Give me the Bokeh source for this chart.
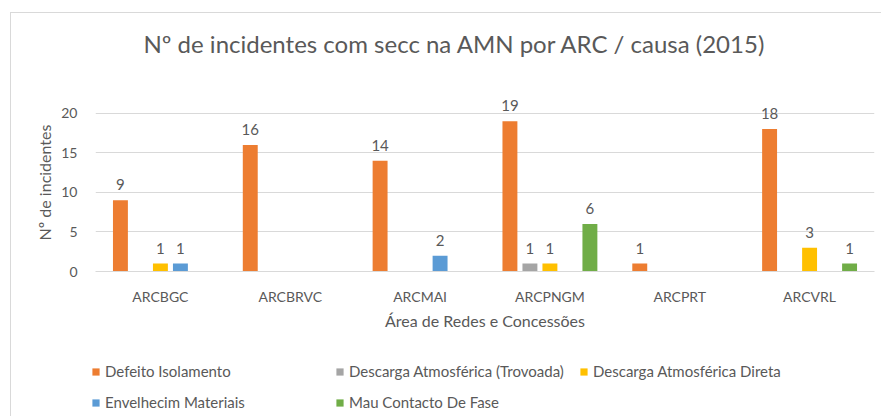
from bokeh.plotting import figure
from bokeh.layouts import column
from bokeh.models import ColumnDataSource, FactorRange, Range1d, Legend, LegendItem, FixedTicker, Label
from bokeh.transform import dodge
from bokeh.core.properties import value
from bokeh.embed import file_html
from bokeh.resources import INLINE

# ---- data ----
title_text = "Nº de incidentes com secc na AMN por ARC / causa  (2015)"
categories = ["ARCBGC", "ARCBRVC", "ARCMAI", "ARCPNGM", "ARCPRT", "ARCVRL"]
series_names = [
    "Defeito Isolamento",
    "Descarga Atmosférica (Trovoada)",
    "Descarga Atmosférica Direta",
    "Envelhecim Materiais",
    "Mau Contacto De Fase",
]
defeito_isolamento = [9, 16, 14, 19, 1, 18]
descarga_trovoada = [0, 0, 0, 1, 0, 0]
descarga_direta = [1, 0, 0, 1, 0, 3]
envelhecim_materiais = [1, 0, 2, 0, 0, 0]
mau_contacto = [0, 0, 0, 6, 0, 1]
y_ticks = [0, 5, 10, 15, 20]

series_values = [defeito_isolamento, descarga_trovoada, descarga_direta,
                 envelhecim_materiais, mau_contacto]
colors = ["#ED7D31", "#A5A5A5", "#FFC000", "#5B9BD5", "#70AD47"]
offsets = [-0.308, -0.154, 0.0, 0.154, 0.308]

FONT = "Lato"
TXT = "#595959"

def strip(height):
    f = figure(width=881, height=height, output_backend="svg", toolbar_location=None,
               x_range=Range1d(0, 1), y_range=Range1d(0, 1),
               min_border_left=0, min_border_right=0, min_border_top=0, min_border_bottom=0)
    f.axis.visible = False
    f.grid.visible = False
    f.outline_line_color = None
    f.border_fill_color = None
    f.background_fill_color = None
    return f

# ---- title strip ----
tf = strip(60)
tf.styles = {"box-shadow": "inset 10px 12px 0 0 #ffffff, inset 11px 13px 0 0 #d9d9d9"}
tf.add_layout(Label(x=143, y=17, x_units="screen", y_units="screen", text=title_text,
                    text_font=FONT, text_font_size="24px", text_color=TXT,
                    text_align="left", text_baseline="middle"))

# ---- main chart ----
p = figure(width=881, height=285, output_backend="svg", toolbar_location=None,
           x_range=FactorRange(*categories), y_range=Range1d(0, 22.5),
           min_border_left=95, min_border_right=7, min_border_top=33, min_border_bottom=74)
p.border_fill_color = None
p.outline_line_color = None
p.styles = {"box-shadow": "inset 10px 0 0 0 #ffffff, inset 11px 0 0 0 #d9d9d9"}
p.title.text = ""

for name, vals, col, off in zip(series_names, series_values, colors, offsets):
    xs = [c for c, v in zip(categories, vals) if v != 0]
    ys = [v for v in vals if v != 0]
    src = ColumnDataSource(data=dict(x=xs, y=ys, lbl=[str(v) for v in ys]))
    p.vbar(x=dodge("x", off, range=p.x_range), top="y", width=0.115, source=src,
           fill_color=col, line_color=None)
    p.text(x=dodge("x", off, range=p.x_range), y="y", text="lbl", source=src,
           text_align="center", text_baseline="bottom", y_offset=-10,
           text_font=value(FONT), text_font_size="15px", text_color=TXT)

p.xgrid.grid_line_color = None
p.ygrid.grid_line_color = "#D9D9D9"
p.yaxis.ticker = FixedTicker(ticks=y_ticks)
p.yaxis.axis_line_color = None
p.yaxis.major_tick_line_color = None
p.yaxis.minor_tick_line_color = None
p.yaxis.major_label_standoff = 12
p.yaxis.axis_label = "Nº de incidentes"
p.yaxis.axis_label_standoff = 4
p.xaxis.axis_line_color = "#D9D9D9"
p.xaxis.major_tick_line_color = None
p.xaxis.major_label_standoff = 10
p.xaxis.axis_label = "Área de Redes e Concessões"
p.xaxis.axis_label_standoff = 3
for ax in (p.xaxis, p.yaxis):
    ax.major_label_text_font = FONT
    ax.major_label_text_font_size = "14px"
    ax.major_label_text_color = TXT
    ax.axis_label_text_font = FONT
    ax.axis_label_text_font_size = "16px"
    ax.axis_label_text_font_style = "normal"
    ax.axis_label_text_color = TXT

# ---- legend strip (its bars sit below the visible range; only the legend shows) ----
lf = figure(width=881, height=71, output_backend="svg", toolbar_location=None,
            x_range=FactorRange(*categories), y_range=Range1d(1000, 1001),
            min_border_left=0, min_border_right=0, min_border_top=0, min_border_bottom=0)
lf.axis.visible = False
lf.grid.visible = False
lf.outline_line_color = None
lf.border_fill_color = None
lf.background_fill_color = None
lf.styles = {"box-shadow": "inset 10px 0 0 0 #ffffff, inset 11px 0 0 0 #d9d9d9"}
for fig in (tf, p, lf):
    if "frame_align" in fig.properties():
        fig.frame_align = False

items = []
for name, vals, col in zip(series_names, series_values, colors):
    src = ColumnDataSource(data=dict(x=categories, y=vals))
    r = lf.vbar(x="x", top="y", width=0.1, source=src, fill_color=col, line_color=None)
    items.append(LegendItem(label=name, renderers=[r]))

legend = Legend(items=items, location=(91, 5), orientation="horizontal", ncols=3,
                glyph_width=9, glyph_height=9, label_height=18, label_width=217, spacing=13,
                label_standoff=5, padding=0, margin=0,
                border_line_color=None, background_fill_color=None,
                label_text_font=FONT, label_text_font_size="15px", label_text_color=TXT)
lf.add_layout(legend, "center")

layout = column(tf, p, lf, spacing=0)
open("out.html", "w").write(file_html(layout, INLINE))
